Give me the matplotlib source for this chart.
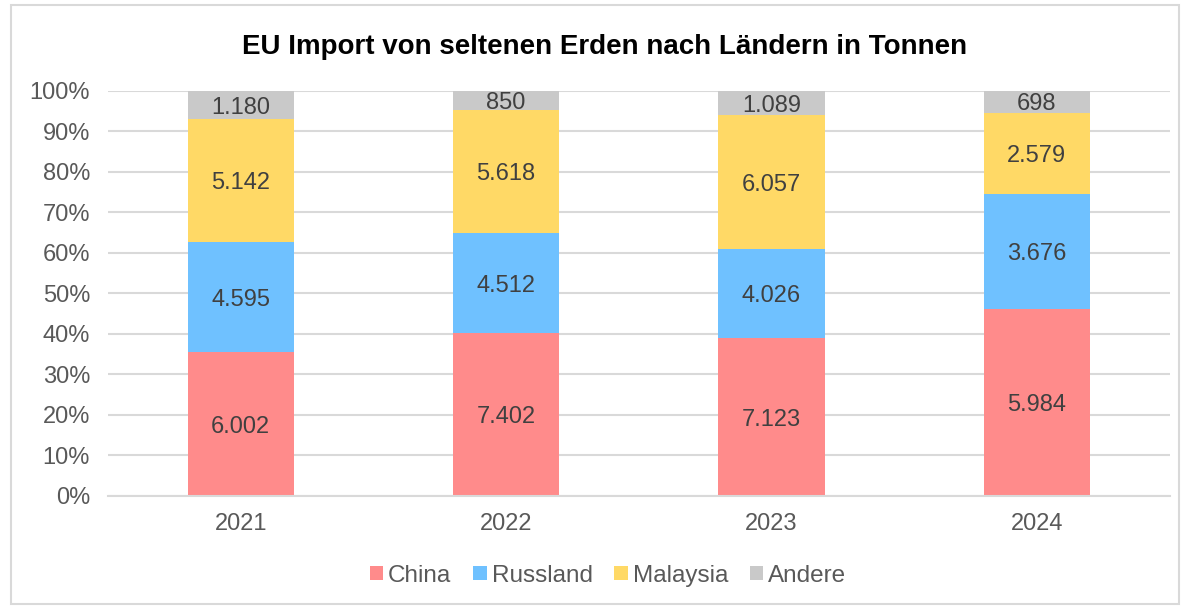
import matplotlib
matplotlib.use("Agg")
import matplotlib.pyplot as plt
from matplotlib.patches import Rectangle
import numpy as np

plt.rcParams['font.family'] = ['Liberation Sans', 'DejaVu Sans']

years = ["2021", "2022", "2023", "2024"]
series_names = ["China", "Russland", "Malaysia", "Andere"]
china = [6002, 7402, 7123, 5984]
russland = [4595, 4512, 4026, 3676]
malaysia = [5142, 5618, 6057, 2579]
andere = [1180, 850, 1089, 698]
colors = ["#FF8B8B", "#6FC1FF", "#FFD966", "#C9C9C9"]

series = [china, russland, malaysia, andere]
totals = np.sum(np.array(series, dtype=float), axis=0)

fig = plt.figure(figsize=(11.9, 6.09), dpi=100)
ax = fig.add_axes([0.0908, 0.1856, 0.892, 0.665])

x = np.arange(len(years))
bottom = np.zeros(len(years))
handles = []
for name, vals, col in zip(series_names, series, colors):
    share = np.array(vals) / totals * 100
    b = ax.bar(x, share, width=0.4, bottom=bottom, color=col, label=name, zorder=2)
    handles.append(b)
    for xi, s, bt, v in zip(x, share, bottom, vals):
        lbl = f"{v:,}".replace(",", ".")
        ax.text(xi, bt + s / 2, lbl, ha="center", va="center_baseline", fontsize=17,
                color="#404040", zorder=3)
    bottom += share

ax.set_xlim(-0.5, 3.5)
ax.set_ylim(0, 100)
ax.set_yticks(np.arange(0, 101, 10))
ax.set_yticklabels([f"{v}%" for v in range(0, 101, 10)])
ax.set_xticks(x)
ax.set_xticklabels(years)
ax.tick_params(axis="both", length=0, labelsize=17, colors="#595959")
ax.tick_params(axis="x", pad=12)
ax.tick_params(axis="y", pad=13)
ax.grid(axis="y", color="#D9D9D9", linewidth=1.5, zorder=0)
for sp in ["top", "right", "left"]:
    ax.spines[sp].set_visible(False)
ax.spines["bottom"].set_color("#D9D9D9")
ax.spines["bottom"].set_linewidth(1.5)

fig.text(0.508, 0.923, "EU Import von seltenen Erden nach Ländern in Tonnen",
         ha="center", va="center", fontsize=20, fontweight="bold", color="black")

leg = fig.legend(handles=handles, labels=series_names, loc="center", bbox_to_anchor=(0.511, 0.055),
                 ncol=4, frameon=False, fontsize=17.5, handlelength=0.55, handleheight=0.55,
                 handletextpad=0.2, columnspacing=0.9)
for t in leg.get_texts():
    t.set_color("#595959")

fig.patches.append(Rectangle((0.009, 0.008), 0.982, 0.984, transform=fig.transFigure,
                             fill=False, edgecolor="#D9D9D9", linewidth=1.5))

fig.savefig("out.png", dpi=100, facecolor="white")
